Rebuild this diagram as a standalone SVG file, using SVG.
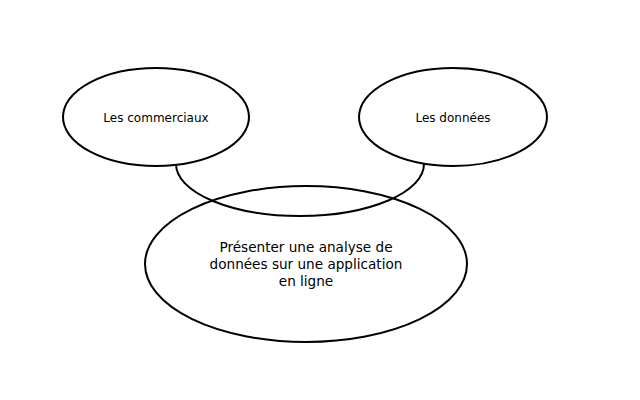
<svg xmlns="http://www.w3.org/2000/svg" width="640" height="400" viewBox="0 0 640 400">
<style>
.n{fill:none;stroke:#000;stroke-width:2}
.t{font-family:"DejaVu Sans",sans-serif;fill:#000;text-anchor:middle}
.s{font-size:12px}
.b{font-size:13.6px}
</style>
<rect width="640" height="400" fill="#fff"/>
<g id="connectors">
<path class="n" d="M176,164 A124,52 0 0 0 424,164"/>
</g>
<g id="node-commerciaux">
<ellipse class="n" cx="156" cy="117" rx="93" ry="49"/>
<text class="t s" x="156" y="122">Les commerciaux</text>
</g>
<g id="node-donnees">
<ellipse class="n" cx="453" cy="117" rx="94" ry="49"/>
<text class="t s" x="453" y="122">Les données</text>
</g>
<g id="node-presenter">
<ellipse class="n" cx="306" cy="264" rx="161" ry="78"/>
<text class="t b" x="306" y="252">Présenter une analyse de</text>
<text class="t b" x="306" y="269">données sur une application</text>
<text class="t b" x="306" y="286">en ligne</text>
</g>
</svg>
